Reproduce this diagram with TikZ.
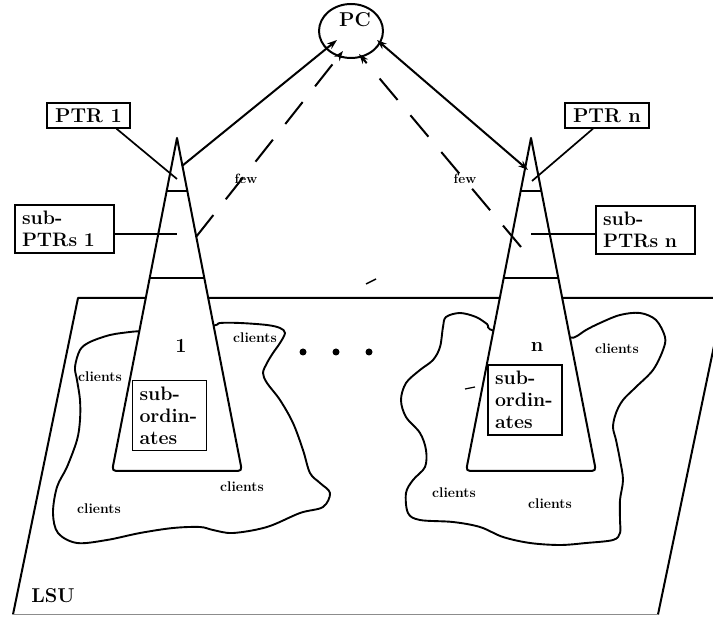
\documentclass[tikz,border=0pt]{standalone}
\usepackage{fontspec}
\usetikzlibrary{shapes.geometric,arrows.meta,calc}
\begin{document}
\begin{tikzpicture}[x=1pt,y=-1pt,
  heavy/.style={line width=2pt, line join=round},
  thinline/.style={line width=1.3pt},
  conefill/.style={heavy, fill=white},
  blob/.style={line width=1.9pt, smooth cycle, tension=0.55},
  boxlbl/.style={draw, line width=1.4pt, font=\fontsize{20}{22}\selectfont\bfseries, inner sep=0pt},
  stacklbl/.style={draw, line width=1.4pt, font=\fontsize{19.5}{22}\selectfont\bfseries, align=left, inner xsep=7pt, inner ysep=6pt},
  bigtxt/.style={font=\fontsize{20}{22}\selectfont\bfseries, inner sep=0pt},
  smalltxt/.style={font=\fontsize{14}{16}\selectfont\bfseries, inner sep=0pt},
  arr/.style={-{Stealth[length=10pt,width=7pt]}},
  dashline/.style={heavy, dash pattern=on 28pt off 20pt}
]
\useasboundingbox (0,0) rectangle (713,617);
% plane (LSU)
\begin{scope}
\clip (0,0) rectangle (713,617);
\coordinate (ptl) at (78,298);
\coordinate (ptr) at (724,298);
\coordinate (pbl) at (13,614.5);
\coordinate (pbr) at (658,614.5);
\draw[heavy] (pbl) -- (ptl) -- (ptr) -- (pbr);
\draw[line width=0.9pt, black!45] (pbl) -- (pbr);
\end{scope}
\node[bigtxt] (lsu) at (53,596) {LSU};
% client regions
\draw[blob] plot coordinates {(142,331) (130,332) (110,335) (90,342) (80,350) (75,367) (77,380) (80,400) (80,420) (77,440) (67,467) (57,487) (53,513) (58,533) (77,543) (107,540) (140,533) (173,528) (200,527) (213,530) (233,533) (267,527) (300,513) (323,507) (330,493) (320,483) (310,473) (303,450) (293,423) (280,400) (267,383) (263,373) (267,363) (273,353) (280,343) (285,333) (280,328) (267,325) (240,323) (220,323) (210,326)};
\draw[blob] plot coordinates {(496,331) (487,324) (476,317) (460,313) (446,317) (443,327) (440,347) (433,360) (420,370) (406,383) (401,400) (406,417) (420,433) (426,450) (425,467) (413,480) (406,493) (408,513) (420,520) (453,522) (480,527) (503,537) (530,543) (560,545) (586,543) (613,540) (620,533) (620,520) (620,500) (623,480) (620,460) (616,440) (613,427) (616,413) (623,400) (636,387) (653,370) (663,350) (665,337) (656,320) (640,313) (620,315) (600,323) (586,330) (575,337) (565,337)};
% cones
\coordinate (apexL) at (177,138);
\coordinate (apexR) at (531,138);
\draw[conefill] (apexL) -- (113.8,462) .. controls (112,471) .. (121,471) -- (233,471) .. controls (242,471) .. (240.2,462) -- cycle;
\draw[conefill] (apexR) -- (467.8,462) .. controls (466,471) .. (475,471) -- (587,471) .. controls (596,471) .. (594.2,462) -- cycle;
% cone sections
\coordinate (l1a) at (166.7,191); \coordinate (l1b) at (187.3,191);
\coordinate (l2a) at (149.7,278); \coordinate (l2b) at (204.3,278);
\coordinate (r1a) at (520.7,191); \coordinate (r1b) at (541.3,191);
\coordinate (r2a) at (503.7,278); \coordinate (r2b) at (558.3,278);
\draw[thinline] (l1a) -- (l1b);
\draw[thinline] (l2a) -- (l2b);
\draw[thinline] (r1a) -- (r1b);
\draw[thinline] (r2a) -- (r2b);
% cone labels
\node[bigtxt] (one) at (181,346) {1};
\node[bigtxt] (enn) at (537,347) {n};
\node[stacklbl, text width=60pt, fill=white] (subL) at (169.5,415.5) {sub-\\ordin-\\ates};
\node[stacklbl, text width=60pt, fill=white] (subR) at (525,400) {sub-\\ordin-\\ates};
% clients
\node[smalltxt] (cl1) at (100,377) {clients};
\node[smalltxt] (cl2) at (255,338) {clients};
\node[smalltxt] (cl3) at (242,487) {clients};
\node[smalltxt] (cl4) at (99,509) {clients};
\node[smalltxt] (cr1) at (617,349) {clients};
\node[smalltxt] (cr2) at (454,493) {clients};
\node[smalltxt] (cr3) at (550,504) {clients};
% dots
\fill (303,352) circle (3.5pt);
\fill (336,352) circle (3.5pt);
\fill (369,352) circle (3.5pt);
% small stray strokes
\coordinate (s1a) at (366,284); \coordinate (s1b) at (376,279);
\draw[line width=1.5pt] (s1a) -- (s1b);
\coordinate (s2a) at (465,389); \coordinate (s2b) at (475,387);
\draw[line width=1.2pt] (s2a) -- (s2b);
% PTR labels
\node[boxlbl, minimum width=83pt, minimum height=25pt] (ptr1) at (88.5,115.5) {PTR 1};
\node[boxlbl, minimum width=84pt, minimum height=25pt] (ptrn) at (607,115.5) {PTR n};
\node[stacklbl, text width=85pt] (sp1) at (64.5,229) {sub-\\PTRs 1};
\node[stacklbl, text width=85pt] (spn) at (645.5,230) {sub-\\PTRs n};
\coordinate (ptr1in) at (177,179);
\coordinate (ptrnin) at (532,181);
\coordinate (sp1in) at (177,234);
\coordinate (spnin) at (531,234);
\draw[line width=1.7pt] ($(ptr1.south)+(28,0)$) -- (ptr1in);
\draw[line width=1.7pt] ($(ptrn.south)+(-14,0)$) -- (ptrnin);
\draw[line width=1.1pt] ($(sp1.east)+(0,5)$) -- (sp1in);
\draw[line width=1.1pt] ($(spn.west)+(0,4)$) -- (spnin);
% PC
\node[draw, ellipse, heavy, minimum width=64pt, minimum height=54pt, inner sep=0pt] (pc) at (351,31) {};
\node[bigtxt] (pctxt) at (355,20) {PC};
\coordinate (pcA) at (337,40);
\coordinate (pcB) at (343,51);
\coordinate (pcC) at (359,54);
\coordinate (pcD) at (377,40);
\coordinate (c1top) at (182,166);
\coordinate (cntop) at (528,170);
\coordinate (c1dash) at (196,237);
\coordinate (cndash) at (521,247);
\draw[heavy, arr] (c1top) -- (pcA);
\draw[heavy, {Stealth[length=10pt,width=7pt]}-{Stealth[length=10pt,width=7pt]}] (cntop) -- (pcD);
\draw[dashline, arr] (c1dash) -- (pcB);
\draw[dashline, arr] (cndash) -- (pcC);
\node[smalltxt, font=\fontsize{13.5}{15}\selectfont\bfseries] (few1) at (246,179) {few};
\node[smalltxt, font=\fontsize{13.5}{15}\selectfont\bfseries] (few2) at (465,179) {few};
\end{tikzpicture}
\end{document}
